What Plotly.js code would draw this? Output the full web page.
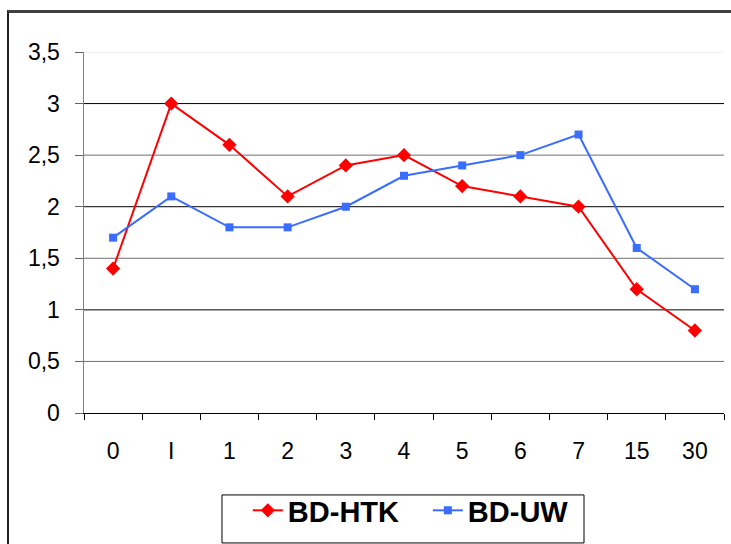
<!DOCTYPE html>
<html>
<head>
<meta charset="utf-8">
<script src="https://cdn.plot.ly/plotly-3.0.1.min.js"></script>
<style>
html,body{margin:0;padding:0;background:#fff;}
#frame{position:absolute;left:7px;top:10px;width:740px;height:560px;border-left:2px solid #222;border-top:3px solid #404040;box-sizing:border-box;}
#chart{position:absolute;left:0;top:0;width:731px;height:544px;}
</style>
</head>
<body>
<div id="frame"></div>
<div id="chart"></div>
<script>
var categories = ["0", "I", "1", "2", "3", "4", "5", "6", "7", "15", "30"];
var htk = [1.4, 3.0, 2.6, 2.1, 2.4, 2.5, 2.2, 2.1, 2.0, 1.2, 0.8];
var uw = [1.7, 2.1, 1.8, 1.8, 2.0, 2.3, 2.4, 2.5, 2.7, 1.6, 1.2];
var yTicks = [0, 0.5, 1, 1.5, 2, 2.5, 3, 3.5];
var majorLines = [1, 2, 3];
var minorLines = [0.5, 1.5, 2.5];

var traces = [
  {x: categories, y: htk, name: "BD-HTK", type: "scatter", mode: "lines+markers",
   line: {color: "#ff0000", width: 2}, marker: {symbol: "diamond", size: 11, color: "#ff0000"}},
  {x: categories, y: uw, name: "BD-UW", type: "scatter", mode: "lines+markers",
   line: {color: "#3a6dff", width: 2}, marker: {symbol: "square", size: 8, color: "#3a6dff"}}
];

function hline(v, color){
  return {type: "line", xref: "paper", x0: 0, x1: 1, yref: "y", y0: v, y1: v,
          line: {color: color, width: 1}, layer: "below"};
}
var shapes = majorLines.map(function(v){ return hline(v, "#000000"); })
  .concat(minorLines.map(function(v){ return hline(v, "#707070"); }));
shapes.push(hline(3.5, "#e6e6e6"));
// legend frame
shapes.push({type: "rect", xref: "paper", yref: "paper",
             x0: 0.2156, x1: 0.78125, y0: -0.36, y1: -0.227,
             line: {color: "#000", width: 1}, fillcolor: "rgba(0,0,0,0)", layer: "above"});

var layout = {
  width: 731, height: 544,
  margin: {l: 84, r: 7, t: 52, b: 131},
  paper_bgcolor: "rgba(0,0,0,0)",
  plot_bgcolor: "rgba(0,0,0,0)",
  separators: ",.",
  font: {family: "Liberation Sans, Arial, sans-serif", size: 23, color: "#000"},
  showlegend: true,
  legend: {orientation: "h", x: 0.256, xanchor: "left",
           yref: "container", y: 0.1085, yanchor: "top",
           borderwidth: 0, bgcolor: "rgba(0,0,0,0)",
           font: {size: 29, family: "Liberation Sans, Arial, sans-serif", weight: "bold"},
           entrywidth: 135, entrywidthmode: "pixels",
           tracegroupgap: 0},
  xaxis: {type: "category", categoryorder: "array", categoryarray: categories,
          showline: true, linecolor: "#000", linewidth: 1,
          ticks: "outside", tickson: "boundaries", ticklen: 6, tickcolor: "#000",
          showgrid: false, zeroline: false, ticklabelstandoff: 17,
          range: [-0.5, 10.5]},
  yaxis: {range: [0, 3.5], tickvals: yTicks, ticks: "outside", ticklen: 8, tickcolor: "#666",
          showline: true, linecolor: "#808080", linewidth: 1.5,
          showgrid: false, zeroline: false,
          ticklabelstandoff: 10},
  shapes: shapes
};

Plotly.newPlot("chart", traces, layout, {displayModeBar: false, staticPlot: true});
</script>
</body>
</html>
